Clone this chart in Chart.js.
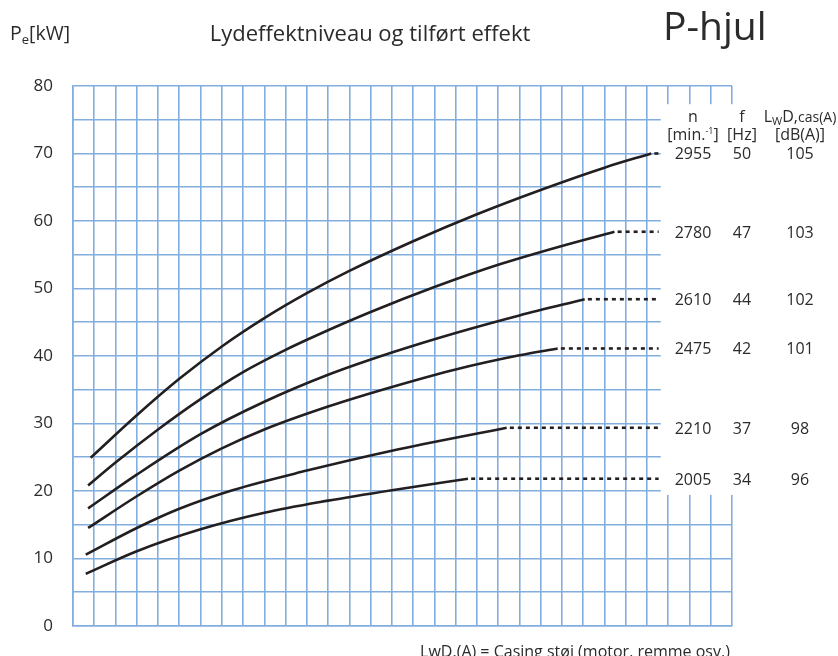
<!DOCTYPE html>
<html>
<head>
<meta charset="utf-8">
<script src="https://cdn.jsdelivr.net/npm/chart.js@4/dist/chart.umd.min.js"></script>
<style>
  body { margin: 0; background: #fff; }
  #wrap { position: relative; width: 838px; height: 656px; overflow: hidden; font-family: "Open Sans", sans-serif; color: #2b2b2b; }
  #chart { position: absolute; left: 0; top: 0; }
  .t { position: absolute; white-space: nowrap; line-height: 1; }
</style>
</head>
<body>
<div id="wrap">
  <canvas id="chart" width="838" height="656"></canvas>
  <div class="t" style="left:10px;top:23px;font-size:19.5px;">P<span style="font-size:13px;position:relative;top:4px;">e</span>[kW]</div>
  <div class="t" style="left:170px;top:21px;width:400px;text-align:center;font-size:22px;">Lydeffektniveau og tilført effekt</div>
  <div class="t" style="left:663px;top:5px;font-size:39px;">P-hjul</div>
  <div class="t" style="left:663px;top:108px;width:60px;text-align:center;font-size:16px;">n</div>
  <div class="t" style="left:722px;top:108px;width:40px;text-align:center;font-size:16px;">f</div>
  <div class="t" style="left:760px;top:108px;width:80px;text-align:center;font-size:16px;">L<span style="font-size:11px;position:relative;top:3px;">W</span>D,<span style="font-size:14px;">cas(A)</span></div>
  <div class="t" style="left:653px;top:126px;width:80px;text-align:center;font-size:16px;">[min.<span style="font-size:9px;position:relative;top:-6px;">-1</span>]</div>
  <div class="t" style="left:717px;top:126px;width:50px;text-align:center;font-size:16px;">[Hz]</div>
  <div class="t" style="left:760px;top:126px;width:80px;text-align:center;font-size:16px;">[dB(A)]</div>
  <div class="t" style="left:375px;top:643px;width:400px;text-align:center;font-size:16px;">LwD.(A) = Casing støj (motor, remme osv.)</div>
</div>
<script>
// kurver: [gitterkolonne, Pe kW]
const curve2955 = [[0.83, 24.9], [3, 31.2], [5, 36.6], [7, 41.4], [9, 45.6], [11, 49.3], [13, 52.6], [16, 57.0], [19, 61.0], [22, 64.6], [25, 67.9], [27.2, 70.0]];
const curve2780 = [[0.71, 20.8], [2, 24.2], [4, 29.1], [6, 33.6], [8, 37.6], [10, 40.9], [11.5, 43.1], [14, 46.5], [17, 50.2], [20, 53.5], [23, 56.3], [25.47, 58.4]];
const curve2610 = [[0.71, 17.4], [3, 22.4], [6, 28.4], [9, 33.2], [12, 37.2], [15, 40.5], [18, 43.4], [21, 46.0], [24.07, 48.4]];
const curve2475 = [[0.71, 14.5], [3, 19.2], [5, 23.0], [7, 26.3], [9, 29.1], [12, 32.5], [15, 35.4], [18, 38.0], [21, 40.1], [22.8, 41.1]];
const curve2210 = [[0.6, 10.55], [3, 14.5], [5, 17.35], [7.5, 20.1], [11, 23.0], [15, 25.95], [20.4, 29.35]];
const curve2005 = [[0.6, 7.7], [3, 11.05], [6, 14.3], [9, 16.75], [12, 18.55], [15, 20.1], [18.58, 21.8]];

const curves = [curve2955, curve2780, curve2610, curve2475, curve2210, curve2005];
const speeds = ['2955', '2780', '2610', '2475', '2210', '2005'];
const freqs = ['50', '47', '44', '42', '37', '34'];
const soundLevels = ['105', '103', '102', '101', '98', '96'];
const yTicks = [0, 10, 20, 30, 40, 50, 60, 70, 80];

const dotEndX = 27.55;     // stiplet linje slutter ved tabellen
const gridColor = '#82aede';
const ink = '#231f20';

const datasets = [];
curves.forEach((c, i) => {
    datasets.push({
        label: speeds[i],
        data: c.map(p => ({ x: p[0], y: p[1] })),
        borderColor: ink,
        borderWidth: 2.6,
        pointRadius: 0,
        cubicInterpolationMode: 'monotone'
    });
    const last = c[c.length - 1];
    datasets.push({
        label: speeds[i] + ' ext',
        data: [{ x: last[0] + 0.15, y: last[1] }, { x: dotEndX, y: last[1] }],
        borderColor: ink,
        borderWidth: 2.6,
        borderDash: [4, 4],
        pointRadius: 0
    });
});

// hvid felt til tabellen + tabelværdier
const tablePlugin = {
    id: 'tablePlugin',
    beforeDatasetsDraw(chart) {
        const { ctx, scales: { x, y } } = chart;
        const l = x.getPixelForValue(dotEndX + 0.1);
        const t = y.getPixelForValue(77.3);
        const b = y.getPixelForValue(19.4);
        ctx.save();
        ctx.fillStyle = '#fff';
        ctx.fillRect(l, t, chart.width - l, b - t);
        ctx.restore();
    },
    afterDatasetsDraw(chart) {
        const { ctx, scales: { y } } = chart;
        ctx.save();
        ctx.fillStyle = '#2b2b2b';
        ctx.font = '16px "Open Sans"';
        ctx.textAlign = 'center';
        ctx.textBaseline = 'alphabetic';
        curves.forEach((c, i) => {
            const py = y.getPixelForValue(c[c.length - 1][1]) + 6;
            ctx.fillText(speeds[i], 693, py);
            ctx.fillText(freqs[i], 742, py);
            ctx.fillText(soundLevels[i], 800, py);
        });
        ctx.restore();
    }
};

new Chart(document.getElementById('chart').getContext('2d'), {
    type: 'line',
    data: { datasets },
    plugins: [tablePlugin],
    options: {
        responsive: false,
        animation: false,
        layout: { padding: { left: 0, top: 86, right: 106, bottom: 24 } },
        plugins: { legend: { display: false }, tooltip: { enabled: false } },
        scales: {
            x: {
                type: 'linear',
                min: 0,
                max: 31,
                afterFit: s => { s.height = 0; },
                ticks: { display: false, stepSize: 1 },
                grid: { color: gridColor, lineWidth: 1.6, drawTicks: false },
                border: { color: gridColor, width: 1.6 }
            },
            y: {
                min: 0,
                max: 80,
                afterFit: s => { s.width = 73; },
                ticks: {
                    stepSize: 5,
                    padding: 20,
                    color: '#2b2b2b',
                    font: { family: 'Open Sans', size: 17 },
                    callback: v => yTicks.includes(v) ? String(v) : ''
                },
                grid: { color: gridColor, lineWidth: 1.6, drawTicks: false },
                border: { color: gridColor, width: 1.6 }
            }
        }
    }
});
</script>
</body>
</html>
